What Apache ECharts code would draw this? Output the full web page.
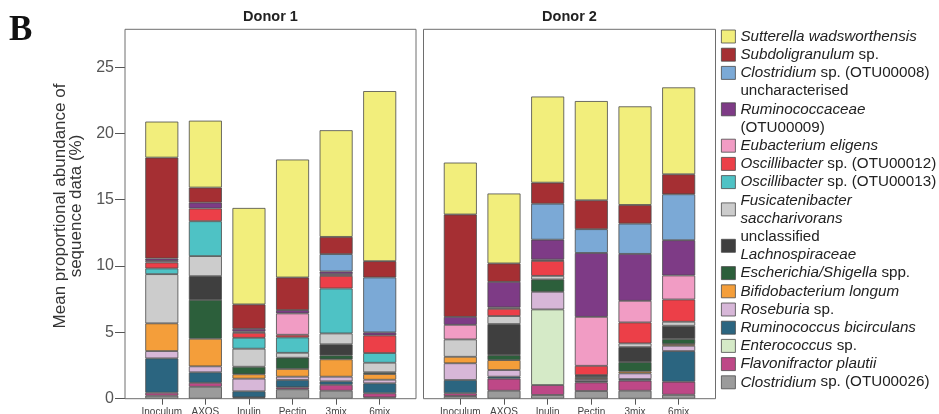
<!DOCTYPE html>
<html>
<head>
<meta charset="utf-8">
<script src="https://cdn.jsdelivr.net/npm/echarts@6/dist/echarts.min.js"></script>
<style>
  html, body { margin: 0; padding: 0; background: #fff; }
  #chart { width: 939px; height: 414px; }
</style>
</head>
<body>
<div id="chart"></div>
<script>
// Treatments shown on each donor panel
var categories = ['Inoculum', 'AXOS', 'Inulin', 'Pectin', '3mix', '6mix'];
var panelTitles = ['Donor 1', 'Donor 2'];
var yTicks = [0, 5, 10, 15, 20, 25];

// Taxa, listed top of legend first (stacks are drawn in the reverse order)
var taxa = [
  'Sutterella wadsworthensis',
  'Subdoligranulum sp.',
  'Clostridium sp. (OTU00008)',
  'uncharacterised Ruminococcaceae (OTU00009)',
  'Eubacterium eligens',
  'Oscillibacter sp. (OTU00012)',
  'Oscillibacter sp. (OTU00013)',
  'Fusicatenibacter saccharivorans',
  'unclassified Lachnospiraceae',
  'Escherichia/Shigella spp.',
  'Bifidobacterium longum',
  'Roseburia sp.',
  'Ruminococcus bicirculans',
  'Enterococcus sp.',
  'Flavonifractor plautii',
  'Clostridium sp. (OTU00026)'
];

var legendLabels = [
  '{i|Sutterella wadsworthensis}',
  '{i|Subdoligranulum} {n|sp.}',
  '{i|Clostridium} {n|sp. (OTU00008)}',
  '{n|uncharacterised}\n{i|Ruminococcaceae}\n{n|(OTU00009)}',
  '{i|Eubacterium eligens}',
  '{i|Oscillibacter} {n|sp. (OTU00012)}',
  '{i|Oscillibacter} {n|sp. (OTU00013)}',
  '{i|Fusicatenibacter}\n{i|saccharivorans}',
  '{n|unclassified}\n{i|Lachnospiraceae}',
  '{i|Escherichia/Shigella} {n|spp.}',
  '{i|Bifidobacterium longum}',
  '{i|Roseburia} {n|sp.}',
  '{i|Ruminococcus bicirculans}',
  '{i|Enterococcus} {n|sp.}',
  '{i|Flavonifractor plautii}',
  '{i|Clostridium} {n|sp. (OTU00026)}'
];

var taxaColors = [
  '#F2EE7C', '#A52F33', '#7BA9D6', '#7E3B86', '#F19CC4', '#EC3F48',
  '#4EC2C5', '#CCCCCC', '#3F3F3F', '#2C5F3B', '#F49E3A', '#D7B7D8',
  '#2B6580', '#D5EAC7', '#BE4887', '#9B9B9B'
];

// Mean proportional abundance (%) per taxon, by treatment — Donor 1
var donor1 = [
  [2.71, 5.04, 7.27, 8.89, 8.04, 12.82],
  [7.61, 1.13, 1.84, 2.46, 1.30, 1.23],
  [0, 0, 0, 0, 1.31, 4.14],
  [0.18, 0.45, 0.20, 0.25, 0.20, 0.23],
  [0.12, 0, 0.10, 1.61, 0.13, 0],
  [0.45, 0.96, 0.38, 0.20, 0.95, 1.33],
  [0.43, 2.63, 0.82, 1.16, 3.39, 0.73],
  [3.71, 1.51, 1.36, 0.37, 0.82, 0.72],
  [0, 1.79, 0, 0, 0.83, 0],
  [0, 2.93, 0.57, 0.85, 0.30, 0.13],
  [2.09, 2.08, 0.33, 0.58, 1.31, 0.43],
  [0.55, 0.45, 0.95, 0.25, 0.35, 0.27],
  [2.59, 0.79, 0.46, 0.55, 0.26, 0.75],
  [0, 0, 0, 0, 0, 0],
  [0.22, 0.30, 0.05, 0.15, 0.45, 0.31],
  [0.23, 0.90, 0.05, 0.71, 0.60, 0.10]
];

// Mean proportional abundance (%) per taxon, by treatment — Donor 2
var donor2 = [
  [3.91, 5.27, 6.49, 7.48, 7.43, 6.55],
  [7.72, 1.39, 1.59, 2.18, 1.41, 1.51],
  [0, 0, 2.71, 1.79, 2.28, 3.46],
  [0.60, 1.93, 1.50, 4.82, 3.54, 2.66],
  [1.10, 0.10, 0.10, 3.69, 1.63, 1.81],
  [0, 0.55, 1.13, 0.70, 1.58, 1.68],
  [0, 0, 0, 0, 0, 0],
  [1.31, 0.60, 0.27, 0.05, 0.28, 0.30],
  [0, 2.34, 0, 0.05, 1.13, 1.00],
  [0, 0.38, 0.93, 0.10, 0.70, 0.38],
  [0.49, 0.75, 0, 0.10, 0.15, 0.13],
  [1.26, 0.50, 1.33, 0.15, 0.43, 0.40],
  [1.00, 0.15, 0, 0.10, 0.12, 2.31],
  [0, 0, 5.70, 0, 0, 0],
  [0.21, 0.91, 0.75, 0.65, 0.76, 0.98],
  [0.20, 0.60, 0.28, 0.58, 0.60, 0.30]
];

var FONT = '"Liberation Sans", Arial, Helvetica, sans-serif';
var Y_MAX = 27.85;
var chart = echarts.init(document.getElementById('chart'), null, { renderer: 'canvas' });

function asStack(row) {
  return row.map(function (v) { return v > 0 ? v : '-'; });
}

var series = [];
[donor1, donor2].forEach(function (donor, g) {
  for (var k = taxa.length - 1; k >= 0; k--) {
    series.push({
      name: taxa[k],
      type: 'bar',
      xAxisIndex: g,
      yAxisIndex: g,
      stack: 'donor' + g,
      barWidth: 33,
      data: asStack(donor[k]),
      itemStyle: { color: taxaColors[k], borderColor: '#4a4a4a', borderWidth: 0.8 },
      emphasis: { disabled: true }
    });
  }
});

function xAxisFor(g) {
  return {
    type: 'category',
    gridIndex: g,
    data: categories,
    axisLine: { show: false },
    axisTick: { show: true, alignWithLabel: true, interval: 0, length: 6, lineStyle: { color: '#555' } },
    axisLabel: { fontFamily: FONT, fontSize: 10, color: '#444', margin: 9, interval: 0, hideOverlap: false }
  };
}

var panelFrames = [
  { x: 125, w: 291 },
  { x: 423.5, w: 292 }
];

var option = {
  animation: false,
  backgroundColor: '#fff',
  grid: [
    { left: 140, right: 537.5, top: 29.3, bottom: 15.3, outerBoundsMode: 'none', containLabel: false },
    { left: 438.5, right: 238.5, top: 29.3, bottom: 15.3, outerBoundsMode: 'none', containLabel: false }
  ],
  xAxis: [xAxisFor(0), xAxisFor(1)],
  yAxis: [
    {
      type: 'value', gridIndex: 0, min: 0, max: Y_MAX, interval: 5, offset: 15,
      splitLine: { show: false },
      axisLine: { show: false },
      axisTick: { show: true, length: 10, customValues: yTicks, lineStyle: { color: '#555' } },
      axisLabel: {
        fontFamily: FONT, fontSize: 16, color: '#555', margin: 11,
        customValues: yTicks,
        formatter: function (v) { return v % 5 === 0 ? String(v) : ''; }
      }
    },
    {
      type: 'value', gridIndex: 1, min: 0, max: Y_MAX, interval: 5,
      splitLine: { show: false }, axisLine: { show: false },
      axisTick: { show: false }, axisLabel: { show: false }
    }
  ],
  legend: {
    orient: 'vertical',
    left: 721,
    top: 27.4,
    itemWidth: 14,
    itemHeight: 13,
    itemGap: 0,
    icon: 'rect',
    padding: 0,
    selectedMode: false,
    data: taxa,
    itemStyle: { borderColor: '#4a4a4a', borderWidth: 0.8 },
    formatter: function (name) { return legendLabels[taxa.indexOf(name)]; },
    textStyle: {
      fontFamily: FONT, fontSize: 15.2, color: '#222', lineHeight: 18.2,
      rich: {
        i: { fontFamily: FONT, fontSize: 15.2, fontStyle: 'italic', color: '#222', lineHeight: 18.2 },
        n: { fontFamily: FONT, fontSize: 15.2, color: '#222', lineHeight: 18.2 }
      }
    }
  },
  graphic: [
    {
      type: 'text', left: 9, top: 13,
      style: { text: 'B', font: 'bold 35px "Liberation Serif", "Times New Roman", serif', fill: '#111' }
    },
    {
      type: 'text', x: 68, y: 206, rotation: Math.PI / 2,
      style: {
        text: 'Mean proportional abundance of\nsequence data (%)',
        font: '17px ' + FONT, fill: '#333', align: 'center', verticalAlign: 'middle', lineHeight: 16
      }
    }
  ].concat(panelFrames.map(function (f, i) {
    return {
      type: 'group',
      children: [
        {
          type: 'rect', z: 10,
          shape: { x: f.x, y: 29.3, width: f.w, height: 369.4 },
          style: { fill: 'none', stroke: '#6e6e6e', lineWidth: 1 }
        },
        {
          type: 'text', z: 10, x: f.x + f.w / 2, y: 17,
          style: { text: panelTitles[i], font: 'bold 14.5px ' + FONT, fill: '#222', align: 'center', verticalAlign: 'middle' }
        }
      ]
    };
  })),
  series: series
};

chart.setOption(option);
</script>
</body>
</html>
